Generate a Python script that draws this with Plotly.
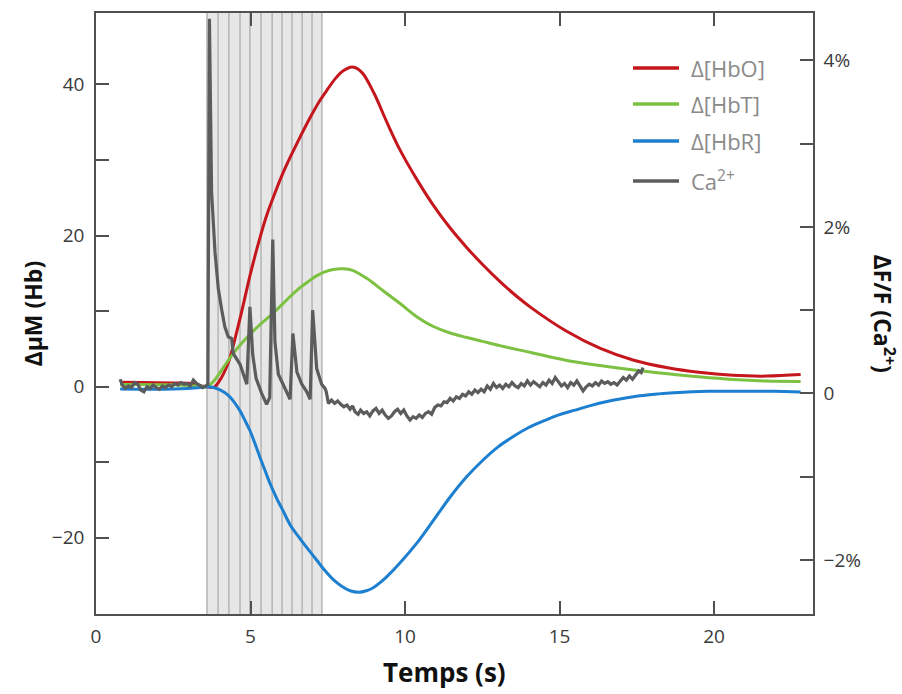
import plotly.graph_objects as go

# ---------------- data ----------------
hbo_t = [0.78, 1.5, 2.5, 3.0, 3.4, 3.6, 3.8, 4.0, 4.3, 4.5, 4.7, 5.0, 5.25, 5.5, 5.75, 6.0, 6.3, 6.6, 6.9, 7.25,
         7.5, 7.75, 8.0, 8.3, 8.6, 9.0, 9.4, 9.84, 10.4, 10.9, 11.46, 12.0, 12.5, 13.1, 13.6, 14.1, 15.2, 16.3,
         17.4, 18.5, 19.5, 20.6, 21.7, 22.8]
hbo_v = [0.6, 0.55, 0.5, 0.45, 0.1, 0.0, -0.1, 0.8, 3.4, 6.4, 9.7, 15.0, 18.9, 22.4, 25.2, 27.8, 30.5, 33.0, 35.4,
         37.9, 39.4, 40.8, 41.8, 42.3, 41.6, 38.8, 35.1, 31.3, 27.3, 24.1, 21.0, 18.4, 16.2, 13.8, 12.0, 10.4,
         7.4, 5.1, 3.5, 2.5, 1.9, 1.5, 1.4, 1.6]

hbt_t = [0.78, 2.5, 3.4, 3.6, 3.8, 4.0, 4.25, 4.5, 4.75, 5.0, 5.25, 5.5, 5.75, 6.05, 6.3, 6.6, 6.9, 7.15, 7.4, 7.67,
         8.0, 8.3, 8.77, 9.29, 9.84, 10.4, 10.9, 11.46, 12.0, 12.5, 13.1, 14.1, 15.2, 16.3, 17.4, 18.5, 19.5,
         20.6, 21.7, 22.8]
hbt_v = [0.3, 0.25, 0.05, 0.0, 0.7, 1.8, 3.3, 4.7, 5.9, 7.0, 8.0, 8.9, 9.8, 11.0, 12.0, 13.1, 14.0, 14.7, 15.2, 15.5,
         15.6, 15.4, 14.3, 12.7, 11.0, 9.2, 8.0, 7.1, 6.5, 6.0, 5.4, 4.5, 3.5, 2.8, 2.2, 1.7, 1.3, 0.95, 0.75, 0.7]

hbr_t = [0.78, 2.5, 3.4, 3.6, 3.8, 4.0, 4.3, 4.5, 4.66, 4.8, 4.98, 5.15, 5.31, 5.47, 5.63, 5.85, 6.05, 6.3, 6.6, 6.9,
         7.15, 7.4, 7.67, 7.95, 8.22, 8.5, 8.75, 8.97, 9.2, 9.42, 9.84, 10.4, 10.9, 11.46, 12.0, 12.5, 13.0,
         13.5, 14.0, 14.5, 15.0, 15.5, 16.0, 16.5, 17.0, 17.6, 18.2, 18.7, 19.8, 20.8, 21.9, 22.8]
hbr_v = [-0.3, -0.3, -0.1, 0.0, -0.1, -0.4, -1.2, -2.2, -3.2, -4.3, -5.8, -7.6, -9.4, -11.1, -12.8, -14.8, -16.4,
         -18.4, -20.1, -21.7, -23.0, -24.3, -25.5, -26.4, -27.0, -27.2, -27.0, -26.6, -25.9, -25.1, -23.3,
         -20.6, -17.8, -14.6, -11.9, -9.8, -8.0, -6.6, -5.4, -4.5, -3.7, -3.1, -2.5, -2.0, -1.6, -1.2, -0.95,
         -0.8, -0.6, -0.6, -0.6, -0.7]

# Ca2+ fluorescence (dF/F, %)
ca_t = [0.78, 0.85, 0.95, 1.05, 1.15, 1.25, 1.35, 1.45, 1.55, 1.65, 1.75, 1.85, 1.95, 2.05, 2.15, 2.25, 2.35,
        2.45, 2.55, 2.65, 2.75, 2.85, 2.95, 3.05, 3.15, 3.25, 3.35, 3.45, 3.55, 3.62,
        3.67, 3.74, 3.85, 3.96, 4.07, 4.17, 4.28, 4.39, 4.44, 4.55, 4.66, 4.77, 4.88, 4.98, 5.07, 5.18, 5.36,
        5.52, 5.62, 5.72, 5.79, 5.90, 6.06, 6.17, 6.28, 6.37, 6.50, 6.66, 6.82, 6.93, 7.01, 7.14, 7.30, 7.41,
        7.45, 7.52, 7.62, 7.72, 7.82, 7.92, 8.02, 8.12, 8.22, 8.30, 8.38, 8.48, 8.56, 8.66, 8.76, 8.86, 8.96,
        9.06, 9.16, 9.26, 9.36, 9.46, 9.56, 9.66, 9.76, 9.86, 9.96, 10.06, 10.16, 10.26, 10.36, 10.46, 10.56,
        10.66, 10.76, 10.86, 10.96, 11.06, 11.16, 11.26, 11.36, 11.46, 11.56, 11.66, 11.76, 11.86, 11.96,
        12.06, 12.16, 12.26, 12.36, 12.46, 12.56, 12.66, 12.76, 12.86, 12.96, 13.06, 13.16, 13.26, 13.36,
        13.46, 13.56, 13.66, 13.76, 13.86, 13.96, 14.06, 14.16, 14.26, 14.36, 14.46, 14.56, 14.66, 14.76,
        14.86, 14.96, 15.06, 15.16, 15.26, 15.36, 15.46, 15.56, 15.66, 15.76, 15.86, 15.96, 16.06, 16.16,
        16.26, 16.36, 16.46, 16.56, 16.66, 16.76, 16.86, 16.96, 17.06, 17.16, 17.26, 17.36, 17.46, 17.56,
        17.64, 17.70]
ca_v = [0.17, 0.10, 0.06, 0.09, 0.07, 0.13, 0.11, 0.04, 0.02, 0.08, 0.06, 0.10, 0.07, 0.05, 0.09, 0.07, 0.10,
        0.08, 0.12, 0.10, 0.13, 0.11, 0.12, 0.09, 0.16, 0.12, 0.10, 0.07, 0.09, 0.11,
        4.50, 2.42, 1.70, 1.25, 1.00, 0.80, 0.68, 0.66, 0.48, 0.42, 0.35, 0.23, 0.11, 1.04, 0.47, 0.18, 0.00,
        -0.13, -0.05, 1.85, 0.62, 0.23, 0.11, 0.02, -0.07, 0.72, 0.26, 0.11, 0.02, -0.07, 1.00, 0.30, 0.11, 0.06,
        0.02, -0.12, -0.08, -0.12, -0.09, -0.13, -0.16, -0.14, -0.19, -0.15, -0.22, -0.25, -0.20, -0.24, -0.22,
        -0.27, -0.21, -0.18, -0.24, -0.20, -0.26, -0.30, -0.27, -0.22, -0.19, -0.24, -0.20, -0.27, -0.32, -0.28,
        -0.30, -0.26, -0.29, -0.24, -0.22, -0.25, -0.17, -0.14, -0.15, -0.10, -0.11, -0.06, -0.09, -0.04, -0.06,
        -0.01, -0.03, 0.02, -0.01, 0.04, 0.01, 0.05, 0.02, 0.09, 0.05, 0.12, 0.07, 0.10, 0.06, 0.11, 0.08,
        0.13, 0.09, 0.07, 0.12, 0.09, 0.15, 0.10, 0.14, 0.11, 0.08, 0.13, 0.10, 0.16, 0.12, 0.19, 0.14, 0.09,
        0.12, 0.07, 0.13, 0.10, 0.15, 0.08, 0.03, 0.08, 0.11, 0.09, 0.13, 0.10, 0.15, 0.12, 0.14, 0.11, 0.13,
        0.10, 0.15, 0.19, 0.16, 0.21, 0.17, 0.22, 0.27, 0.25, 0.31]

# stimulation pulse times (s)
stim_times = [3.59, 3.95, 4.30, 4.66, 4.98, 5.34, 5.70, 6.02, 6.34, 6.67, 6.99, 7.31]

series_names = ["Δ[HbO]", "Δ[HbT]", "Δ[HbR]", "Ca<sup>2+</sup>"]
series_colors = ["#c5161d", "#7dc142", "#1c7fcf", "#5b5c5e"]

x_ticks = [0, 5, 10, 15, 20]
y_ticks = [-20, 0, 20, 40]
y2_ticks = [-2, 0, 2, 4]
y2_ticktext = ["−2%", "0", "2%", "4%"]

# ---------------- figure ----------------
W, H = 902, 694
L, R, T, B = 96, 89, 13, 80
PW, PH = W - L - R, H - T - B


def px2paper_x(px):
    return (px - L) / PW


def px2paper_y(py):
    return (H - B - py) / PH


FONT = "Open Sans"
AX = "#505050"
TICKFONT = dict(family=FONT, size=19, color="#3a3a3a")

fig = go.Figure()

for t, v, i in [(hbo_t, hbo_v, 0), (hbt_t, hbt_v, 1), (hbr_t, hbr_v, 2)]:
    fig.add_trace(go.Scatter(x=t, y=v, mode="lines", name=series_names[i],
                             line=dict(color=series_colors[i], width=3, shape="spline", smoothing=1.0),
                             showlegend=False, xaxis="x", yaxis="y"))
fig.add_trace(go.Scatter(x=ca_t, y=ca_v, mode="lines", name=series_names[3],
                         line=dict(color=series_colors[3], width=3.2),
                         showlegend=False, xaxis="x2", yaxis="y2"))

shapes = []
shapes.append(dict(type="rect", xref="x", yref="paper", x0=stim_times[0], x1=stim_times[-1], y0=0, y1=1,
                   fillcolor="#e7e7e7", line=dict(width=0), layer="below"))
for st in stim_times:
    shapes.append(dict(type="line", xref="x", yref="paper", x0=st, x1=st, y0=0, y1=1,
                       line=dict(color="#b4b4b4", width=1.5), layer="below"))

leg_y = [68, 104, 141, 181]
annotations = []
for name, col, py in zip(series_names, series_colors, leg_y):
    shapes.append(dict(type="line", xref="paper", yref="paper",
                       x0=px2paper_x(633), x1=px2paper_x(679), y0=px2paper_y(py), y1=px2paper_y(py),
                       line=dict(color=col, width=3.5)))
    annotations.append(dict(xref="paper", yref="paper", x=px2paper_x(689), y=px2paper_y(py),
                            xanchor="left", yanchor="middle", text=name, showarrow=False,
                            font=dict(family=FONT, size=22, color="#8a8a8a")))

annotations.append(dict(xref="paper", yref="paper", x=0, y=0.5, xshift=-64, xanchor="center", yanchor="middle",
                        text="<b>ΔμM (Hb)</b>", textangle=-90, showarrow=False,
                        font=dict(family=FONT, size=23, color="#111111")))
annotations.append(dict(xref="paper", yref="paper", x=1, y=0.5, xshift=71, xanchor="center", yanchor="middle",
                        text="<b>ΔF/F (Ca<sup>2+</sup>)</b>", textangle=90, showarrow=False,
                        font=dict(family=FONT, size=23, color="#111111")))
annotations.append(dict(xref="paper", yref="paper", x=px2paper_x(444), y=0, yshift=-(B - 2), xanchor="center",
                        yanchor="bottom", text="<b>Temps (s)</b>", showarrow=False,
                        font=dict(family=FONT, size=26, color="#111111")))

XR = [0, 23.2]
fig.update_layout(
    width=W, height=H,
    margin=dict(l=L, r=R, t=T, b=B),
    paper_bgcolor="white", plot_bgcolor="white",
    font=dict(family=FONT, size=19, color="#3a3a3a"),
    showlegend=False,
    shapes=shapes,
    annotations=annotations,
    xaxis=dict(range=XR, tickvals=x_ticks, ticks="inside", ticklen=13, tickwidth=1.5, tickcolor=AX,
               showline=True, linecolor=AX, linewidth=1.5, showgrid=False, zeroline=False,
               ticklabelstandoff=4, tickfont=TICKFONT),
    xaxis2=dict(range=XR, overlaying="x", side="top", anchor="y2", tickvals=x_ticks, ticks="inside",
                ticklen=13, tickwidth=1.5, tickcolor=AX, showline=True, linecolor=AX, linewidth=1.5,
                showgrid=False, zeroline=False, showticklabels=False),
    yaxis=dict(range=[-30.08, 49.45], tickvals=y_ticks, ticks="inside", ticklen=13, tickwidth=1.5,
               tickcolor=AX, showline=True, linecolor=AX, linewidth=1.5, showgrid=False, zeroline=False,
               minor=dict(dtick=10, tick0=0, ticks="inside", ticklen=13, tickwidth=1.5, tickcolor=AX),
               ticklabelstandoff=6, tickfont=TICKFONT),
    yaxis2=dict(range=[-2.65, 4.57], overlaying="y", side="right", anchor="x2", tickvals=y2_ticks,
                ticktext=y2_ticktext, ticks="inside", ticklen=13, tickwidth=1.5, tickcolor=AX, showline=True,
                linecolor=AX, linewidth=1.5, showgrid=False, zeroline=False,
                minor=dict(dtick=1, tick0=0, ticks="inside", ticklen=13, tickwidth=1.5, tickcolor=AX),
                ticklabelstandoff=5, tickfont=TICKFONT),
)

fig.write_html("out.html")
